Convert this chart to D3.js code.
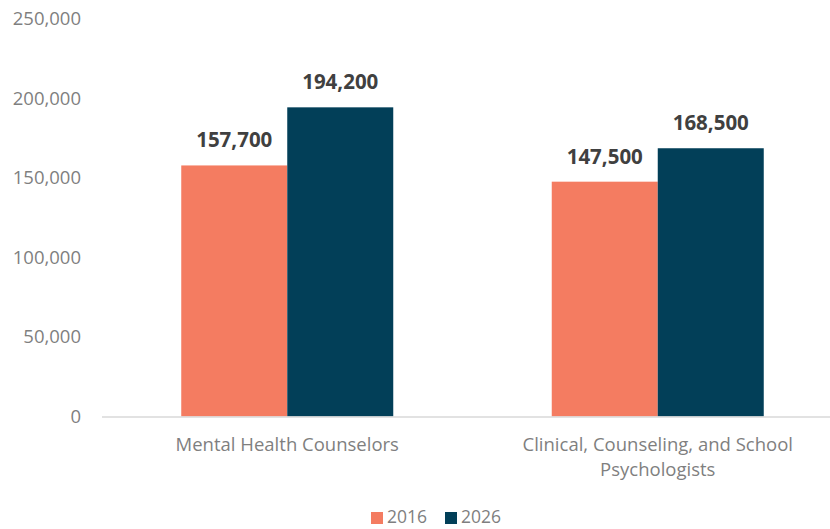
<!DOCTYPE html>
<html>
<head>
<meta charset="utf-8">
<script src="https://cdn.jsdelivr.net/npm/d3@7"></script>
<style>
  body { margin: 0; background: #fff; }
  text { font-family: "Open Sans", sans-serif; }
</style>
</head>
<body>
<div id="viz"></div>
<script>
const categories = ['Mental Health Counselors', 'Clinical, Counseling, and School Psychologists'];
const categoryLines = [['Mental Health Counselors'], ['Clinical, Counseling, and School', 'Psychologists']];
const years = ['2016', '2026'];
const values2016 = [157700, 147500];
const values2026 = [194200, 168500];
const yTicks = [0, 50000, 100000, 150000, 200000, 250000];
const colors = ['#f47c61', '#023f58'];

const width = 830;
const height = 529;

const svg = d3.select('#viz').append('svg')
  .attr('width', width)
  .attr('height', height);

const xScale = d3.scaleBand()
  .domain(categories)
  .range([102, 843])
  .paddingInner(0)
  .paddingOuter(0);

const groupWidth = 212;
const xInner = d3.scaleBand()
  .domain(years)
  .range([0, groupWidth]);

const yScale = d3.scaleLinear()
  .domain([0, 250000])
  .range([416.5, 18.5]);

const fmt = d3.format(',');

// y labels, no gridlines
svg.append('g')
  .selectAll('text')
  .data(yTicks)
  .enter()
  .append('text')
  .attr('x', 81)
  .attr('y', d => yScale(d))
  .attr('dy', '0.35em')
  .attr('text-anchor', 'end')
  .attr('fill', '#7f7f7f')
  .style('font-size', '18.5px')
  .text(d => fmt(d));

const rows = categories.map((c, i) => ({ cat: c, vals: [values2016[i], values2026[i]] }));

const groups = svg.selectAll('g.group')
  .data(rows)
  .enter()
  .append('g')
  .attr('class', 'group')
  .attr('transform', d => `translate(${xScale(d.cat) + xScale.bandwidth() / 2 - groupWidth / 2},0)`);

groups.selectAll('rect')
  .data(d => d.vals.map((v, j) => ({ year: years[j], v, j })))
  .enter()
  .append('rect')
  .attr('x', d => xInner(d.year))
  .attr('width', xInner.bandwidth())
  .attr('y', d => yScale(d.v))
  .attr('height', d => yScale(0) - yScale(d.v))
  .attr('fill', d => colors[d.j]);

groups.selectAll('text.value')
  .data(d => d.vals.map((v, j) => ({ year: years[j], v, j })))
  .enter()
  .append('text')
  .attr('class', 'value')
  .attr('x', d => xInner(d.year) + xInner.bandwidth() / 2)
  .attr('y', d => yScale(d.v) - 18)
  .attr('text-anchor', 'middle')
  .attr('fill', '#404040')
  .style('font-size', '20.5px')
  .style('font-weight', 'bold')
  .text(d => fmt(d.v));

// baseline
svg.append('line')
  .attr('x1', 102)
  .attr('x2', 843)
  .attr('y1', yScale(0) + 0.5)
  .attr('y2', yScale(0) + 0.5)
  .attr('stroke', '#d9d9d9')
  .attr('stroke-width', 1.5);

// category labels
categories.forEach((c, i) => {
  const t = svg.append('text')
    .attr('x', xScale(c) + xScale.bandwidth() / 2)
    .attr('y', 451)
    .attr('text-anchor', 'middle')
    .attr('fill', '#7f7f7f')
    .style('font-size', '18.5px');
  categoryLines[i].forEach((line, k) => {
    t.append('tspan')
      .attr('x', xScale(c) + xScale.bandwidth() / 2)
      .attr('dy', k === 0 ? 0 : 25)
      .text(line);
  });
});

// legend
const legend = svg.append('g');
const legendX = [371, 445];
years.forEach((y, i) => {
  legend.append('rect')
    .attr('x', legendX[i])
    .attr('y', 512)
    .attr('width', 12)
    .attr('height', 12)
    .attr('fill', colors[i]);
  legend.append('text')
    .attr('x', legendX[i] + 16)
    .attr('y', 523)
    .attr('fill', '#7f7f7f')
    .style('font-size', '17.5px')
    .text(y);
});
</script>
</body>
</html>
